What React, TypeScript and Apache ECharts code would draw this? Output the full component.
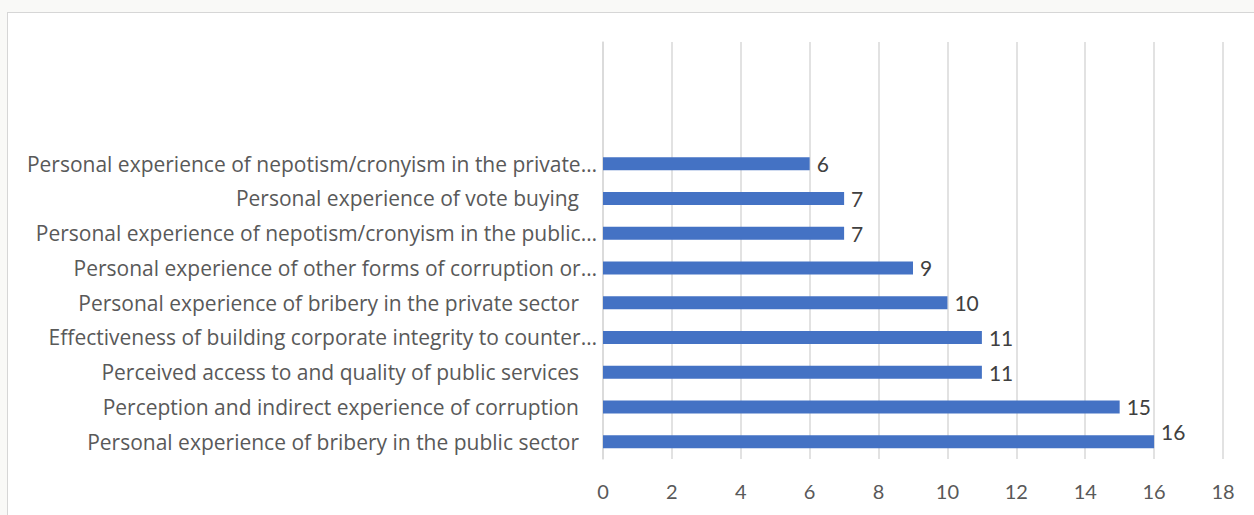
import React, { useEffect, useRef } from "react";
import * as echarts from "echarts";

const categories: string[] = [
  "Personal experience of bribery in the public sector",
  "Perception and indirect experience of corruption",
  "Perceived access to and quality of public services",
  "Effectiveness of building corporate integrity to counter…",
  "Personal experience of bribery in the private sector",
  "Personal experience of other forms of corruption or…",
  "Personal experience of nepotism/cronyism in the public…",
  "Personal experience of vote buying",
  "Personal experience of nepotism/cronyism in the private…",
];
const values: number[] = [16, 15, 11, 11, 10, 9, 7, 7, 6];
const blankSlots: string[] = ["", "", ""];
const xTicks = { min: 0, max: 18, interval: 2 };

const FONT = "Lato, 'Open Sans', sans-serif";
const CAT_FONT = "'Open Sans', Lato, sans-serif";

export default function App() {
  const ref = useRef<HTMLDivElement>(null);
  useEffect(() => {
    if (!ref.current) return;
    const chart = echarts.init(ref.current, undefined, { renderer: "svg" });
    const maxVal = Math.max(...values);
    chart.setOption({
      animation: false,
      grid: { left: 603, right: 31, top: 42, bottom: 56, containLabel: false },
      xAxis: {
        type: "value",
        min: xTicks.min,
        max: xTicks.max,
        interval: xTicks.interval,
        axisLine: { show: false },
        axisTick: { show: false },
        splitLine: { show: true, lineStyle: { color: "#d9d9d9", width: 1.5 } },
        axisLabel: { color: "#595959", fontSize: 20, fontFamily: FONT, margin: 22 },
      },
      yAxis: {
        type: "category",
        data: [...categories, ...blankSlots],
        axisLine: { show: true, lineStyle: { color: "#d9d9d9", width: 1.5 } },
        axisTick: { show: false },
        axisLabel: {
          margin: 6,
          formatter: (v: string) => (v.endsWith("…") ? `{e|${v}}` : `{n|${v}}`),
          rich: {
            e: { color: "#595959", fontSize: 21, fontFamily: CAT_FONT },
            n: { color: "#595959", fontSize: 21, fontFamily: CAT_FONT, padding: [0, 18, 0, 0] },
          },
        },
      },
      series: [
        {
          type: "bar",
          data: values.map((v) =>
            v === maxVal ? { value: v, label: { offset: [0, -10] } } : { value: v }
          ),
          barWidth: 13,
          itemStyle: { color: "#4472C4" },
          label: {
            show: true,
            position: "right",
            distance: 7,
            color: "#404040",
            fontSize: 21,
            fontFamily: FONT,
          },
        },
      ],
    });
    return () => chart.dispose();
  }, []);

  return (
    <div style={{ position: "fixed", left: 0, top: 0, width: 1254, height: 515, background: "#f9f9f7", overflow: "hidden" }}>
      <div
        style={{
          position: "absolute",
          left: 7,
          top: 12,
          width: 1270,
          height: 530,
          background: "#ffffff",
          borderLeft: "1px solid #d6d6d6",
          borderTop: "1px solid #d6d6d6",
        }}
      />
      <div ref={ref} style={{ position: "absolute", left: 0, top: 0, width: 1254, height: 515 }} />
    </div>
  );
}
